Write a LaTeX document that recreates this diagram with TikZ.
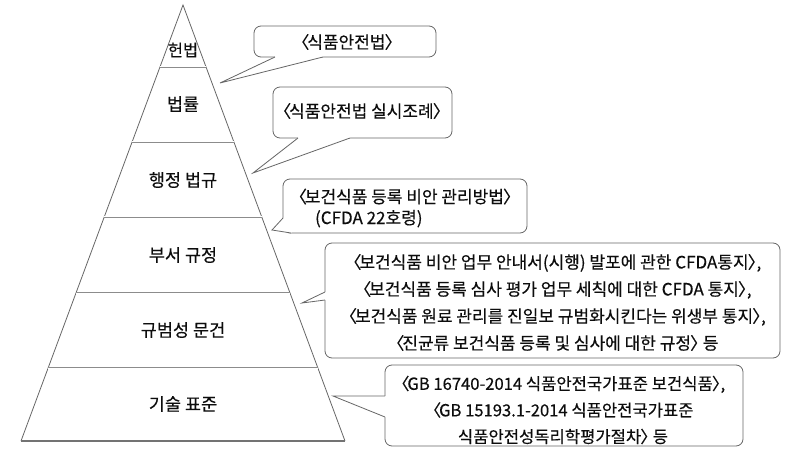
\documentclass[tikz,border=0pt]{standalone}
\usepackage{fontspec}
\newfontfamily\kr[CharacterWidth=AlternateProportional,FakeBold=0.3]{Noto Sans CJK KR}
\newcommand\lb{〈\kern-0.1em}
\newcommand\rb{\kern-0.03em〉}
\usetikzlibrary{calc}
\begin{document}
\begin{tikzpicture}[x=1pt,y=-1pt,
  pyr/.style={draw=black!60, line width=0.8pt, line join=miter},
  sepline/.style={draw=black!45, line width=0.6pt, double=white, double distance=1pt},
  lbl/.style={font=\kr\fontsize{17.5}{20}\selectfont, text=black!95, inner sep=0pt},
  callbox/.style={draw=black!60, line width=0.8pt, rounded corners=7pt, fill=white, inner sep=0pt},
  calltext/.style={font=\kr\fontsize{17}{27}\selectfont, text=black!95, inner sep=0pt, align=center},
  ptr/.style={draw=black!60, line width=0.8pt},
  ptrfill/.style={fill=white}]
\useasboundingbox (0,0) rectangle (787,449);

% pyramid
\coordinate (A) at (183,5);
\coordinate (L) at (21,441);
\coordinate (R) at (345,441);
\draw[pyr] (L) -- (A) -- (R);
\draw[draw=black!55, line width=1.4pt] (L) -- (R);
\foreach \t in {0.1422,0.3142,0.4862,0.6606,0.8326}
  \draw[sepline] ($(A)!\t!(L)$) -- ($(A)!\t!(R)$);

\node[lbl, font=\kr\fontsize{16.5}{20}\selectfont] (l1) at (183,50) {헌법};
\node[lbl] (l2) at (183,104) {법률};
\node[lbl] (l3) at (183,180) {행정 법규};
\node[lbl] (l4) at (183,255) {부서 규정};
\node[lbl] (l5) at (183,330) {규범성 문건};
\node[lbl] (l6) at (183,404) {기술 표준};

% callout 1
\node[callbox, minimum width=182pt, minimum height=31pt] (c1) at (345,41.5) {};
\coordinate (t1) at (220,83);
\coordinate (c1a) at (275,57);
\coordinate (c1b) at (323,57);
\fill[ptrfill] (c1a) -- (t1) -- (c1b) -- (323,54) -- (275,54) -- cycle;
\draw[ptr] (c1a) -- (t1) -- (c1b);
\node[calltext] (c1t) at (347,42) {\lb 식품안전법\rb};

% callout 2
\node[callbox, minimum width=179pt, minimum height=51pt] (c2) at (362.5,112.5) {};
\coordinate (t2) at (253,173);
\coordinate (c2a) at (298,138);
\coordinate (c2b) at (350,138);
\fill[ptrfill] (c2a) -- (t2) -- (c2b) -- (350,135) -- (298,135) -- cycle;
\draw[ptr] (c2a) -- (t2) -- (c2b);
\node[calltext] (c2t) at (362,111) {\lb 식품안전법 실시조례\rb};

% callout 3
\node[callbox, minimum width=244pt, minimum height=54pt] (c3) at (405,206) {};
\coordinate (t3) at (272,230);
\coordinate (c3a) at (283,218);
\coordinate (c3b) at (291,233);
\fill[ptrfill] (c3a) -- (t3) -- (c3b) -- (295,228) -- (287,218) -- cycle;
\draw[ptr] (c3a) -- (t3) -- (c3b);
\node[calltext, align=left, font=\kr\fontsize{17}{21}\selectfont] (c3t) at (405,208) {\lb 보건식품 등록 비안 관리방법\rb\\\hspace*{17pt}(CFDA 22호령)};

% callout 4
\node[callbox, minimum width=455pt, minimum height=115pt] (c4) at (552.5,300.5) {};
\coordinate (t4) at (302,303);
\coordinate (c4a) at (325,292);
\coordinate (c4b) at (325,300);
\fill[ptrfill] (c4a) -- (t4) -- (c4b) -- (328,300) -- (328,292) -- cycle;
\draw[ptr] (c4a) -- (t4) -- (c4b);
\node[calltext] (c4t) at (557,302.5) {\lb 보건식품 비안 업무 안내서(시행) 발포에 관한 CFDA통지\rb,\\\lb 보건식품 등록 심사 평가 업무 세칙에 대한 CFDA 통지\rb,\\\lb 보건식품 원료 관리를 진일보 규범화시킨다는 위생부 통지\rb,\\\lb 진균류 보건식품 등록 및 심사에 대한 규정\rb{} 등};

% callout 5
\node[callbox, minimum width=358pt, minimum height=81pt] (c5) at (564,405.5) {};
\coordinate (t5) at (333,396);
\coordinate (c5a) at (385,396);
\coordinate (c5b) at (385,417);
\fill[ptrfill] (c5a) -- (t5) -- (c5b) -- (388,417) -- (388,396) -- cycle;
\draw[ptr] (c5a) -- (t5) -- (c5b);
\node[calltext, font=\kr\fontsize{16.6}{26.5}\selectfont] (c5t) at (563,410) {\lb GB 16740-2014 식품안전국가표준 보건식품\rb,\\\lb GB 15193.1-2014 식품안전국가표준\\식품안전성독리학평가절차\rb{} 등};
\end{tikzpicture}
\end{document}
